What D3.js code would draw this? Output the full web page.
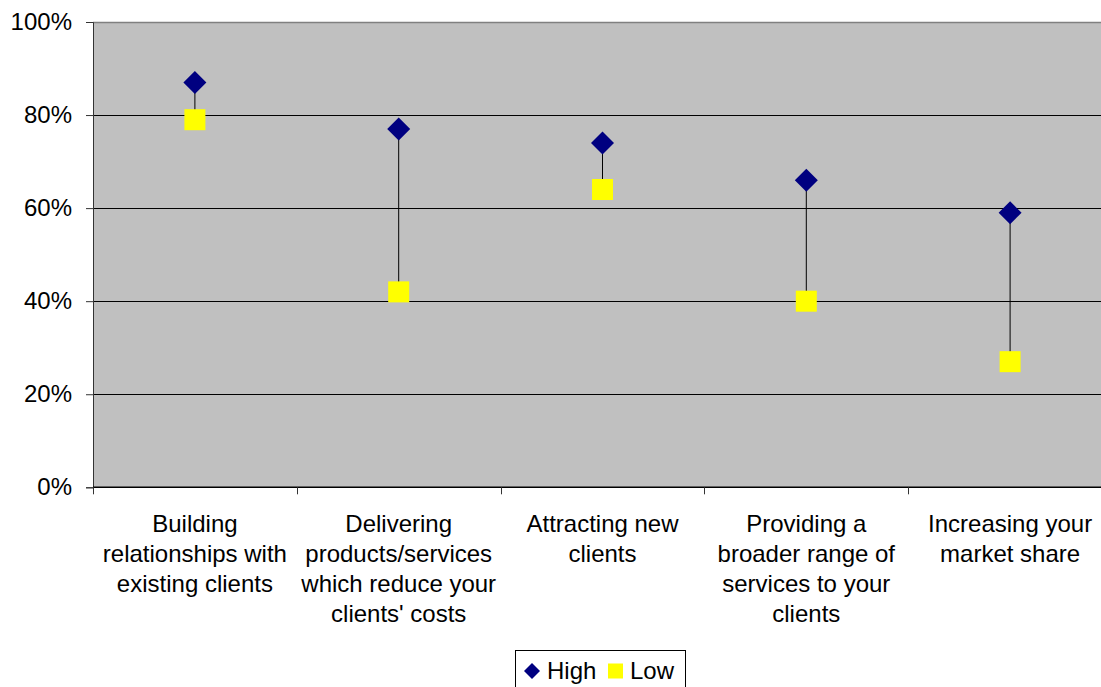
<!DOCTYPE html>
<html><head><meta charset="utf-8">
<script src="https://cdn.jsdelivr.net/npm/d3@7"></script>
<style>body{margin:0;background:#fff;overflow:hidden}svg{display:block;font-family:"Liberation Sans",Arial,sans-serif}</style>
</head><body>
<svg id="c" width="1101" height="687"></svg>
<script>
const categories = [
  ["Building", "relationships with", "existing clients"],
  ["Delivering", "products/services", "which reduce your", "clients' costs"],
  ["Attracting new", "clients"],
  ["Providing a", "broader range of", "services to your", "clients"],
  ["Increasing your", "market share"]
];
const highValues = [87, 77, 74, 66, 59];
const lowValues = [79, 42, 64, 40, 27];
const yTicks = [0, 20, 40, 60, 80, 100];

const svg = d3.select("#c");
const L = 93, R = 1112, T = 22, B = 487.3;
const FS = 24;
const x = d3.scaleBand().domain(d3.range(categories.length)).range([L, R]);
const y = d3.scaleLinear().domain([0, 100]).range([B, T]);

svg.append("rect").attr("x", L).attr("y", T).attr("width", R - L).attr("height", B - T).attr("fill", "#c0c0c0");
svg.append("line").attr("x1", L).attr("x2", R).attr("y1", T + 0.5).attr("y2", T + 0.5).attr("stroke", "#808080").attr("stroke-width", 1.5);

// gridlines
svg.append("g").selectAll("line").data(yTicks.filter(d => d > 0 && d < 100)).join("line")
  .attr("x1", L).attr("x2", R).attr("y1", d => Math.round(y(d)) + 0.5).attr("y2", d => Math.round(y(d)) + 0.5)
  .attr("stroke", "#000").attr("stroke-width", 1);

// y axis
const yAxis = d3.axisLeft(y).tickValues(yTicks).tickFormat(d => d + "%").tickSize(7).tickPadding(14);
const gy = svg.append("g").attr("transform", `translate(${L},0)`).call(yAxis);
gy.select(".domain").attr("stroke", "#333");
gy.selectAll(".tick line").attr("stroke", "#333");
gy.selectAll("text").attr("font-size", FS).attr("fill", "#000").attr("font-family", "Liberation Sans, Arial, sans-serif");

// x axis
const bounds = d3.range(categories.length + 1).map(i => L + i * x.bandwidth());
svg.append("line").attr("x1", L).attr("x2", R).attr("y1", B).attr("y2", B).attr("stroke", "#000").attr("stroke-width", 1.5);
svg.append("g").selectAll("line").data(bounds).join("line")
  .attr("x1", d => Math.round(d) + 0.5).attr("x2", d => Math.round(d) + 0.5).attr("y1", B).attr("y2", B + 7)
  .attr("stroke", "#333");

const lab = svg.append("g").selectAll("text").data(categories).join("text")
  .attr("text-anchor", "middle").attr("font-size", FS).attr("fill", "#000")
  .attr("transform", (d, i) => `translate(${x(i) + x.bandwidth() / 2},531.5)`);
lab.selectAll("tspan").data(d => d).join("tspan")
  .attr("x", 0).attr("dy", (d, i) => i === 0 ? 0 : 30).text(d => d);

// drop lines
svg.append("g").selectAll("line").data(highValues).join("line")
  .attr("x1", (d, i) => x(i) + x.bandwidth() / 2).attr("x2", (d, i) => x(i) + x.bandwidth() / 2)
  .attr("y1", d => y(d)).attr("y2", (d, i) => y(lowValues[i]))
  .attr("stroke", "#000").attr("stroke-width", 1);

// low squares
const s = 21;
svg.append("g").selectAll("rect").data(lowValues).join("rect")
  .attr("x", (d, i) => x(i) + x.bandwidth() / 2 - s / 2).attr("y", d => y(d) - s / 2)
  .attr("width", s).attr("height", s).attr("fill", "#ffff00");

// high diamonds
const dm = 11.5;
svg.append("g").selectAll("path").data(highValues).join("path")
  .attr("transform", (d, i) => `translate(${x(i) + x.bandwidth() / 2},${y(d)})`)
  .attr("d", `M0,${-dm}L${dm},0L0,${dm}L${-dm},0Z`).attr("fill", "#000080");

// legend
const lg = svg.append("g");
lg.append("rect").attr("x", 515.5).attr("y", 650.5).attr("width", 170).attr("height", 50).attr("fill", "#fff").attr("stroke", "#000");
lg.append("path").attr("transform", "translate(532,671)").attr("d", "M0,-8L8,0L0,8L-8,0Z").attr("fill", "#000080");
lg.append("text").attr("x", 547).attr("y", 679.3).attr("font-size", FS).text("High");
lg.append("rect").attr("x", 608).attr("y", 663.5).attr("width", 15).attr("height", 15).attr("fill", "#ffff00");
lg.append("text").attr("x", 630).attr("y", 679.3).attr("font-size", FS).text("Low");
</script>
</body></html>
